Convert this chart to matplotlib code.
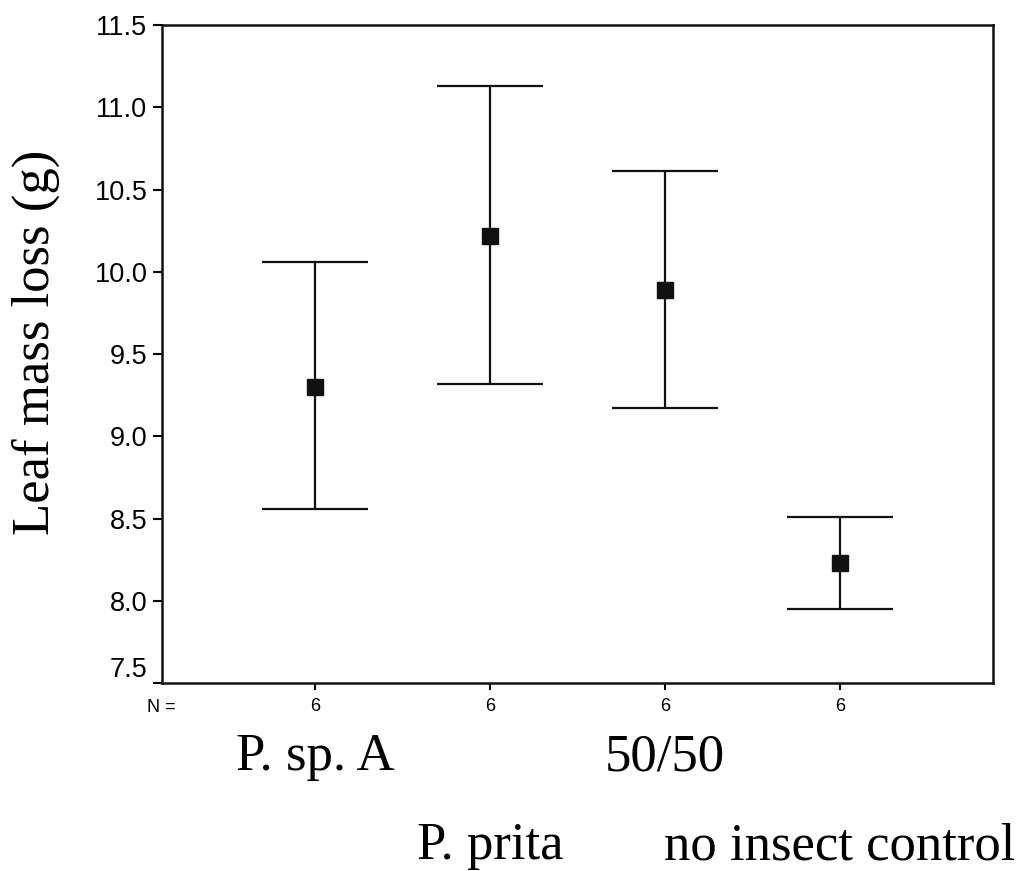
import matplotlib
matplotlib.use("Agg")
import matplotlib.pyplot as plt
from matplotlib.transforms import blended_transform_factory

groups = ["P. sp. A", "P. prita", "50/50", "no insect control"]
means = [9.30, 10.22, 9.89, 8.23]
upper = [10.06, 11.13, 10.61, 8.51]
lower = [8.56, 9.32, 9.17, 7.95]
n_labels = ["6", "6", "6", "6"]
yticks = [7.5, 8.0, 8.5, 9.0, 9.5, 10.0, 10.5, 11.0, 11.5]

W, H = 1024, 871
fig = plt.figure(figsize=(W/100, H/100), dpi=100)
ax = fig.add_axes([162/W, 1-683/H, (993-162)/W, (683-25)/H])

x = list(range(1, len(groups) + 1))
err_lo = [m - l for m, l in zip(means, lower)]
err_hi = [u - m for m, u in zip(means, upper)]
ax.errorbar(x, means, yerr=[err_lo, err_hi], fmt='s', color='#111111',
            ecolor='#111111', elinewidth=1.6, capsize=38, capthick=1.6,
            markersize=12, markeredgecolor='#111111')

ax.set_xlim(0.125, 4.875)
ax.set_ylim(7.5, 11.5)
ax.set_yticks(yticks)
ax.set_yticklabels([f"{v:.1f}" for v in yticks], fontfamily='Liberation Sans', fontsize=19.5)
ax.get_yticklabels()[0].set_va('bottom')
ax.set_xticks(x)
ax.set_xticklabels(n_labels, fontfamily='Liberation Sans', fontsize=13)
ax.tick_params(axis='y', direction='out', length=6.5, width=1.5, pad=4)
ax.tick_params(axis='x', direction='out', length=5, width=1.5, pad=6)
for s in ax.spines.values():
    s.set_linewidth(1.8)
    s.set_color('#111111')

fig.text(36/W, 1-342/H, "Leaf mass loss (g)", rotation=90, ha='center', va='center',
         fontfamily='Liberation Serif', fontsize=38)

fig.text(161/W, 1-707/H, "N =", ha='center', va='center',
         fontfamily='Liberation Sans', fontsize=13)

trans = blended_transform_factory(ax.transData, fig.transFigure)
row_base = [1-770/H, 1-859/H, 1-770/H, 1-859/H]
for xi, g, r in zip(x, groups, row_base):
    ax.text(xi, r, g, transform=trans, ha='center', va='baseline',
            fontfamily='Liberation Serif', fontsize=38)

fig.savefig("out.png", dpi=100)
